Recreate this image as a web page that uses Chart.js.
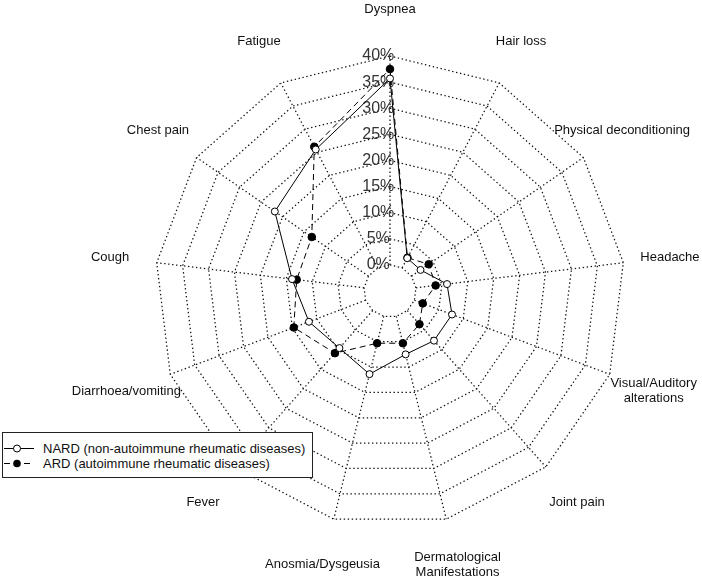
<!DOCTYPE html>
<html>
<head>
<meta charset="utf-8">
<script src="https://cdn.jsdelivr.net/npm/chart.js@4.4.1/dist/chart.umd.min.js"></script>
<style>
  body { margin: 0; background: #fff; }
  #wrap { position: relative; width: 702px; height: 579px; }
  #legend {
    position: absolute; left: 2px; top: 432px; width: 309px; height: 44px;
    border: 1px solid #222; background: #fff;
    font: 13px "Liberation Sans", Arial, sans-serif; color: #111;
  }
  .row { position: absolute; left: 0; height: 15px; display: flex; align-items: center; white-space: nowrap; }
  .row svg { width: 36px; height: 15px; margin-right: 4px; }
</style>
</head>
<body>
<div id="wrap">
  <canvas id="radar"></canvas>
  <div id="legend">
    <div class="row" style="top:8px">
      <svg viewBox="0 0 36 15"><line x1="1" y1="7.5" x2="31" y2="7.5" stroke="#000" stroke-width="1"/><circle cx="14" cy="7.5" r="3.5" fill="#fff" stroke="#000"/></svg>
      <span>NARD (non-autoimmune rheumatic diseases)</span>
    </div>
    <div class="row" style="top:23px">
      <svg viewBox="0 0 36 15"><line x1="1" y1="7.5" x2="31" y2="7.5" stroke="#000" stroke-width="1" stroke-dasharray="6 4"/><circle cx="14" cy="7.5" r="3.8" fill="#000"/></svg>
      <span>ARD (autoimmune rheumatic diseases)</span>
    </div>
  </div>
</div>
<script>
  const symptoms = [
    "Dyspnea", "Hair loss", "Physical deconditioning", "Headache",
    ["Visual/Auditory", "alterations"], "Joint pain",
    ["Dermatological", "Manifestations"], "Anosmia/Dysgeusia", "Fever",
    "Diarrhoea/vomiting", "Cough", "Chest pain", "Fatigue"
  ];
  const nardValues = [35.7, 2.1, 2.1, 6.0, 7.7, 7.7, 7.5, 11.4, 9.6, 11.6, 13.9, 21.8, 25.6];
  const ardValues = [37.5, 2.2, 4.0, 3.8, 1.7, 3.5, 5.3, 5.3, 10.9, 14.7, 13.0, 13.2, 26.2];
  const scaleMin = -5;
  const scaleMax = 40;
  const tickStep = 5;

  const fontFamily = '"Liberation Sans", Arial, Helvetica, sans-serif';
  const gridColor = "#111";
  const gridWidth = 1.25;
  const dotted = [1.4, 2.6];

  // spokes start at the 0% ring, leaving the middle empty; then the % labels
  const spokesPlugin = {
    id: "spokes",
    beforeDatasetsDraw(chart) {
      const scale = chart.scales.r;
      const ctx = chart.ctx;
      const inner = scale.getDistanceFromCenterForValue(0);
      const outer = scale.getDistanceFromCenterForValue(scaleMax);
      ctx.save();
      ctx.strokeStyle = gridColor;
      ctx.lineWidth = gridWidth;
      ctx.setLineDash(dotted);
      for (let i = 0; i < symptoms.length; i++) {
        const a = scale.getPointPosition(i, inner);
        const b = scale.getPointPosition(i, outer);
        ctx.beginPath();
        ctx.moveTo(a.x, a.y);
        ctx.lineTo(b.x, b.y);
        ctx.stroke();
      }
      ctx.setLineDash([]);
      // axis labels sit a little left of the top spoke
      ctx.font = `16px ${fontFamily}`;
      ctx.fillStyle = "#333";
      ctx.textAlign = "center";
      ctx.textBaseline = "middle";
      const shift = scale.drawingArea * 0.05;
      scale.ticks.forEach((t) => {
        if (t.value < 0) return;
        const y = scale.yCenter - scale.getDistanceFromCenterForValue(t.value);
        ctx.fillText(t.value + "%", scale.xCenter - shift, y);
      });
      ctx.restore();
    },
  };

  // category names centred on their spoke, outside the grid
  const namesPlugin = {
    id: "names",
    afterDraw(chart) {
      const scale = chart.scales.r;
      const ctx = chart.ctx;
      const dist = scale.drawingArea * 1.2;
      ctx.save();
      ctx.font = `13px ${fontFamily}`;
      ctx.fillStyle = "#111";
      ctx.textAlign = "center";
      ctx.textBaseline = "middle";
      symptoms.forEach((name, i) => {
        const lines = Array.isArray(name) ? name : [name];
        const p = scale.getPointPosition(i, dist);
        const lh = 14.5;
        lines.forEach((line, k) => {
          ctx.fillText(line, p.x, p.y + (k - (lines.length - 1) / 2) * lh);
        });
      });
      ctx.restore();
    },
  };

  new Chart(document.getElementById("radar"), {
    type: "radar",
    data: {
      labels: symptoms.map((s) => (Array.isArray(s) ? s.join(" ") : s)),
      datasets: [
        {
          label: "NARD (non-autoimmune rheumatic diseases)",
          data: nardValues,
          borderColor: "#000",
          borderWidth: 1,
          fill: false,
          pointRadius: 3.5,
          pointBorderWidth: 1,
          pointBorderColor: "#000",
          pointBackgroundColor: "#fff",
        },
        {
          label: "ARD (autoimmune rheumatic diseases)",
          data: ardValues,
          borderColor: "#000",
          borderWidth: 1,
          borderDash: [6, 4],
          fill: false,
          pointRadius: 3.8,
          pointBorderWidth: 1,
          pointBorderColor: "#000",
          pointBackgroundColor: "#000",
        },
      ],
    },
    options: {
      responsive: true,
      maintainAspectRatio: false,
      animation: false,
      layout: { padding: { left: 155, right: 77, top: 56, bottom: 53 } },
      plugins: { legend: { display: false }, tooltip: { enabled: false } },
      elements: { line: { tension: 0 } },
      scales: {
        r: {
          min: scaleMin,
          max: scaleMax,
          startAngle: 0,
          angleLines: { display: false },
          grid: { color: gridColor, lineWidth: gridWidth },
          border: { dash: dotted },
          pointLabels: { display: false },
          ticks: { stepSize: tickStep, display: false },
        },
      },
    },
    plugins: [spokesPlugin, namesPlugin],
  });
</script>
</body>
</html>
